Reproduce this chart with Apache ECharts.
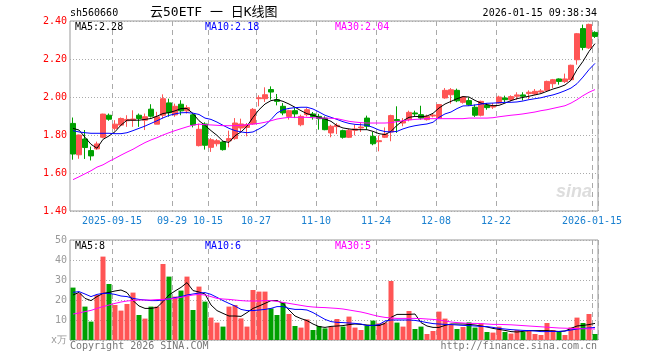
<!DOCTYPE html>
<html><head><meta charset="utf-8">
<script src="https://cdn.jsdelivr.net/npm/echarts@6/dist/echarts.min.js"></script>
<style>html,body{margin:0;padding:0;background:#fff}#c{width:660px;height:360px}</style>
</head><body><div id="c"></div>
<script>
const dates = ['2025-09-04','2025-09-05','2025-09-08','2025-09-09','2025-09-10','2025-09-11','2025-09-12','2025-09-15','2025-09-16','2025-09-17','2025-09-18','2025-09-19','2025-09-22','2025-09-23','2025-09-24','2025-09-25','2025-09-26','2025-09-29','2025-09-30',
'2025-10-09','2025-10-10','2025-10-13','2025-10-14','2025-10-15','2025-10-16','2025-10-17','2025-10-20','2025-10-21','2025-10-22','2025-10-23','2025-10-24','2025-10-27','2025-10-28','2025-10-29','2025-10-30','2025-10-31',
'2025-11-03','2025-11-04','2025-11-05','2025-11-06','2025-11-07','2025-11-10','2025-11-11','2025-11-12','2025-11-13','2025-11-14','2025-11-17','2025-11-18','2025-11-19','2025-11-20','2025-11-21','2025-11-24','2025-11-25','2025-11-26','2025-11-27','2025-11-28',
'2025-12-01','2025-12-02','2025-12-03','2025-12-04','2025-12-05','2025-12-08','2025-12-09','2025-12-10','2025-12-11','2025-12-12','2025-12-15','2025-12-16','2025-12-17','2025-12-18','2025-12-19','2025-12-22','2025-12-23','2025-12-24','2025-12-25','2025-12-26','2025-12-29','2025-12-30','2025-12-31',
'2026-01-05','2026-01-06','2026-01-07','2026-01-08','2026-01-09','2026-01-12','2026-01-13','2026-01-14','2026-01-15'];

const tickDates = ['2025-09-15','2025-09-29','2025-10-15','2025-10-27','2025-11-10','2025-11-24','2025-12-08','2025-12-22','2026-01-15'];
const tickLabels = ['2025-09-15','09-29','10-15','10-27','11-10','11-24','12-08','12-22','2026-01-15'];

const opens = [1.861,1.696,1.779,1.718,1.727,1.788,1.904,1.835,1.852,1.875,1.878,1.904,1.878,1.936,1.857,1.904,1.969,1.906,1.962,1.927,1.906,1.744,
1.858,1.735,1.754,1.763,1.770,1.781,1.837,1.840,1.858,1.991,1.991,2.039,1.986,1.951,1.898,1.928,1.854,1.907,1.911,1.898,1.889,1.811,
1.844,1.823,1.788,1.825,1.837,1.889,1.793,1.765,1.788,1.816,1.881,1.863,1.881,1.916,1.907,1.881,1.900,1.888,1.995,2.012,2.035,1.972,
1.981,1.946,1.904,1.956,1.947,1.968,1.995,1.986,2.004,2.011,2.018,2.016,2.026,2.035,2.070,2.095,2.081,2.091,2.196,2.360,2.258,2.340];
const closes = [1.700,1.800,1.734,1.690,1.753,1.910,1.883,1.857,1.887,1.882,1.884,1.887,1.896,1.899,1.896,1.991,1.917,1.951,1.927,1.944,1.853,1.830,
1.746,1.775,1.770,1.723,1.781,1.863,1.858,1.854,1.935,1.996,2.012,2.026,1.977,1.916,1.928,1.911,1.898,1.933,1.898,1.886,1.828,1.846,
1.851,1.788,1.825,1.832,1.842,1.846,1.754,1.770,1.805,1.902,1.875,1.872,1.919,1.911,1.889,1.898,1.905,1.960,2.035,2.038,1.980,2.000,
1.960,1.904,1.977,1.944,1.954,2.000,1.986,2.002,2.011,2.004,2.025,2.030,2.032,2.082,2.091,2.082,2.095,2.167,2.333,2.261,2.382,2.319];
const lows = [1.670,1.675,1.674,1.666,1.722,1.783,1.875,1.823,1.847,1.843,1.843,1.843,1.826,1.892,1.857,1.887,1.896,1.896,1.904,1.913,1.840,1.740,
1.723,1.711,1.740,1.718,1.735,1.775,1.816,1.793,1.854,1.951,1.974,1.986,1.956,1.904,1.881,1.889,1.846,1.898,1.881,1.828,1.825,1.788,
1.805,1.781,1.784,1.798,1.816,1.828,1.746,1.714,1.784,1.767,1.811,1.846,1.872,1.899,1.881,1.876,1.893,1.884,1.991,1.965,1.973,1.965,
1.954,1.895,1.898,1.933,1.937,1.965,1.972,1.977,1.986,1.982,1.989,2.012,2.021,2.030,2.047,2.065,2.074,2.088,2.170,2.246,2.253,2.311];
const highs = [1.892,1.802,1.826,1.739,1.765,1.912,1.913,1.878,1.892,1.904,1.930,1.913,1.913,1.962,1.922,2.014,1.991,1.965,1.983,1.957,1.913,1.860,
1.867,1.784,1.779,1.767,1.823,1.889,1.886,1.863,1.942,2.009,2.051,2.056,2.016,1.968,1.933,1.942,1.907,1.942,1.921,1.911,1.898,1.854,
1.863,1.828,1.832,1.854,1.863,1.902,1.816,1.798,1.840,1.907,1.951,1.889,1.928,1.928,1.954,1.907,1.915,1.962,2.047,2.047,2.044,2.005,
1.998,1.960,1.981,1.968,1.968,2.007,2.007,2.009,2.025,2.025,2.035,2.042,2.042,2.086,2.095,2.098,2.123,2.170,2.337,2.381,2.386,2.346];

const ma5 = [1.835,1.826,1.788,1.751,1.730,1.777,1.795,1.817,1.852,1.878,1.878,1.878,1.882,1.887,1.899,1.913,1.918,1.927,1.939,1.939,1.913,1.875,
1.851,1.823,1.798,1.767,1.761,1.796,1.816,1.846,1.893,1.933,1.963,1.981,1.986,1.977,1.963,1.946,1.928,1.912,1.904,1.893,1.884,1.872,
1.849,1.837,1.832,1.828,1.828,1.828,1.819,1.807,1.802,1.819,1.851,1.875,1.893,1.898,1.896,1.900,1.914,1.942,1.963,1.977,1.991,2.002,
2.000,1.982,1.968,1.960,1.954,1.956,1.968,1.981,1.991,1.998,2.004,2.011,2.018,2.030,2.042,2.051,2.063,2.088,2.144,2.188,2.240,2.281];
const ma10 = [1.823,1.816,1.812,1.809,1.809,1.809,1.809,1.807,1.807,1.812,1.823,1.835,1.847,1.861,1.875,1.890,1.903,1.911,1.917,1.918,1.915,1.908,
1.889,1.882,1.868,1.851,1.835,1.823,1.816,1.812,1.816,1.832,1.851,1.881,1.916,1.933,1.940,1.944,1.946,1.946,1.937,1.921,1.904,1.893,
1.882,1.870,1.861,1.856,1.854,1.851,1.840,1.826,1.818,1.816,1.819,1.832,1.842,1.849,1.854,1.858,1.867,1.893,1.911,1.921,1.939,1.953,
1.954,1.958,1.963,1.967,1.968,1.970,1.972,1.972,1.974,1.979,1.986,1.991,1.996,2.004,2.011,2.021,2.033,2.047,2.070,2.105,2.144,2.177];
const ma30 = [1.565,1.580,1.596,1.612,1.631,1.643,1.661,1.677,1.694,1.710,1.725,1.743,1.760,1.774,1.786,1.800,1.812,1.823,1.833,1.843,1.852,1.857,
1.854,1.853,1.851,1.849,1.849,1.849,1.851,1.854,1.858,1.861,1.867,1.875,1.884,1.889,1.893,1.893,1.893,1.893,1.891,1.889,1.889,1.888,
1.886,1.879,1.872,1.868,1.865,1.863,1.863,1.863,1.863,1.865,1.870,1.875,1.879,1.882,1.884,1.886,1.886,1.886,1.886,1.886,1.886,1.886,
1.889,1.889,1.889,1.889,1.891,1.896,1.900,1.904,1.907,1.911,1.916,1.921,1.928,1.933,1.940,1.947,1.954,1.968,1.986,2.007,2.025,2.039];

const volumes = [26.2,23.3,16.7,9.2,22.5,41.7,28,17.5,14.7,18,23.7,12.5,10.7,16.7,16.7,38,31.7,21.7,24.7,31.7,15,26.7,19.2,11.2,8.7,6.7,16.7,17.5,10.8,6.7,
25,24.2,24.2,15.8,12.5,18.7,13,7,6.2,10.3,5,7,5.8,6.7,10.5,6.7,11.7,6.2,5,7.2,9.7,8.3,8.7,29.5,8.7,6.7,14.5,5.5,6.7,3,
4.5,14.2,10.7,7.5,5.5,6.5,8.8,6.2,8.3,4,3.7,6.7,4,3.2,5,4,4.5,3,2.5,8.5,5,4.2,2.5,6.3,11.2,8.5,13,3];
const volMa5 = [22.5,23.8,20.8,19.7,21.7,23.3,23.8,24.5,25,23.7,19.7,17,15.8,15.8,16.3,19.2,22.5,24.5,26.3,28.7,24.7,24,23,17.5,14.7,13.3,12,12,11.8,13.7,
15.8,17,18.3,19.7,19.7,18.3,15,12,10.7,9.7,8,6.7,6.3,6.8,7,7.2,7.7,8,7.8,7.5,7.3,7.2,8.3,11.3,12.8,12.8,12.8,13,8.7,7,
6.3,6.3,7.3,8,8,8,7.8,7.5,7,6.5,5.8,5.3,4.8,4.2,4,4.3,4.7,4.7,4.7,4.7,4.5,4.2,4.5,5.8,7,7.3,7.7,8.3];
const volMa10 = [23.8,24.2,23,21.7,22.8,23.3,23.3,22.8,22,21.7,20.8,20.3,20,19.7,19.7,20,20.5,21.2,21.7,22.5,23,23.5,23.7,22.8,21.3,19.7,18.3,17,15.3,14.7,
14.7,15,15.3,15.8,16.7,16.7,15.8,15.3,15.3,15,13.7,12,10.3,9.2,8.8,8.7,8.5,8.3,8,7.2,7.3,7.7,9.5,10,10,10,10,9.8,9.3,8.7,
8.2,8,7.8,7.7,7.5,7.3,7.2,7,6.8,6.7,6.3,5.8,5.5,5.2,5,4.8,4.7,4.5,4.2,4.2,4.3,4.3,4.5,5,5.5,5.8,6,6.3];
const volMa30 = [13,13.5,14.2,14.8,15.8,16.7,17.5,18.3,19,19.5,19.8,20,20,20,20.2,20.3,20.5,20.8,21.3,22,22.5,22.8,22.5,21.7,20.8,20.5,20.3,20,19.7,19.5,
19.5,19.5,19.7,19.7,19.3,18.8,18.3,17.8,17.3,16.8,16.5,16.3,16.2,16,15.8,15.5,15,14.5,14,13.3,12.5,11.8,11.3,11,10.8,10.8,10.8,10.8,10.7,10.5,
10.3,10,9.5,9,8.7,8.5,8.3,8.3,8.2,8,7.8,7.8,7.7,7.6,7.4,7.2,7,6.8,6.6,6.4,6.2,6,5.9,5.8,5.7,5.6,5.6,5.5];

const mainLegend = ['MA5:2.28','MA10:2.18','MA30:2.04'];
const volLegend = ['MA5:8','MA10:6','MA30:5'];
const headerLeft = 'sh560660';
const headerTitle = '云50ETF 一 日K线图';
const headerTime = '2026-01-15 09:38:34';

const MONO = '"DejaVu Sans Mono","Liberation Mono",monospace';
const UP = '#ff5555', DOWN = '#00a000';
const MA_COLORS = ['#000000','#0000ff','#ff00ff'];
const tickSet = new Set(tickDates);
const tickFn = (i, v) => tickSet.has(v);
const labelMap = {};
tickDates.forEach((d, k) => { labelMap[d] = tickLabels[k]; });
const kdata = dates.map((d, i) => [opens[i], closes[i], lows[i], highs[i]]);

const vSplit = {show: true, interval: tickFn, lineStyle: {color: '#aaaaaa', type: [5, 4], width: 1}};
const hSplit = {show: true, lineStyle: {color: '#aaaaaa', type: [1, 2], width: 1}};

function maLine(data, color, xi, yi) {
  return {type: 'line', data: data, xAxisIndex: xi, yAxisIndex: yi, symbol: 'none', smooth: false,
    lineStyle: {color: color, width: 1}, itemStyle: {color: color}, z: 3, silent: true};
}
function txt(text, x, y, color, font, align) {
  return {type: 'text', x: x, y: y, silent: true, z: 100,
    style: {text: text, fill: color, font: font, align: align || 'left', verticalAlign: 'middle',
      textAlign: align || 'left', textVerticalAlign: 'middle'}};
}

const chart = echarts.init(document.getElementById('c'), null, {renderer: 'canvas'});
chart.setOption({
  animation: false,
  backgroundColor: '#ffffff',
  grid: [
    {left: 70, top: 21, width: 528, height: 190, show: true, borderColor: '#999999', borderWidth: 1, backgroundColor: 'transparent'},
    {left: 70, top: 240, width: 528, height: 100, show: true, borderColor: '#999999', borderWidth: 1, backgroundColor: 'transparent'}
  ],
  xAxis: [
    {type: 'category', gridIndex: 0, data: dates, boundaryGap: true,
     axisLine: {show: false}, axisTick: {show: false},
     axisLabel: {interval: tickFn, formatter: v => labelMap[v] || '', color: '#1a80d0', fontFamily: MONO, fontSize: 10, margin: 5, padding: [0, 6, 0, 0]},
     splitLine: vSplit},
    {type: 'category', gridIndex: 1, data: dates, boundaryGap: true,
     axisLine: {show: false}, axisTick: {show: false}, axisLabel: {show: false},
     splitLine: vSplit}
  ],
  yAxis: [
    {type: 'value', gridIndex: 0, min: 1.4, max: 2.4, interval: 0.2, scale: true,
     axisLine: {show: false}, axisTick: {show: false},
     axisLabel: {color: '#ff0000', fontFamily: MONO, fontSize: 10, margin: 3, formatter: v => v.toFixed(2)},
     splitLine: hSplit},
    {type: 'value', gridIndex: 1, min: 0, max: 50, interval: 10,
     axisLine: {show: false}, axisTick: {show: false},
     axisLabel: {color: '#999999', fontFamily: MONO, fontSize: 10, margin: 3, formatter: v => v === 0 ? 'x万' : String(v)},
     splitLine: hSplit}
  ],
  series: [
    {type: 'candlestick', data: kdata, xAxisIndex: 0, yAxisIndex: 0, barWidth: 5, z: 2, silent: true,
     itemStyle: {color: UP, color0: DOWN, borderColor: UP, borderColor0: DOWN, borderWidth: 1}},
    maLine(ma5, MA_COLORS[0], 0, 0),
    maLine(ma10, MA_COLORS[1], 0, 0),
    maLine(ma30, MA_COLORS[2], 0, 0),
    {type: 'bar', data: volumes, xAxisIndex: 1, yAxisIndex: 1, barWidth: 5, z: 2, silent: true,
     itemStyle: {color: p => (closes[p.dataIndex] >= opens[p.dataIndex] ? UP : DOWN)}},
    maLine(volMa5, MA_COLORS[0], 1, 1),
    maLine(volMa10, MA_COLORS[1], 1, 1),
    maLine(volMa30, MA_COLORS[2], 1, 1)
  ],
  graphic: [
    txt(headerLeft, 70, 13, '#000', '10px ' + MONO),
    txt(headerTitle, 150, 13, '#000', '13px "DejaVu Sans Mono","Noto Sans CJK SC",sans-serif'),
    txt(headerTime, 597, 13, '#000', '10px ' + MONO, 'right'),
    txt(mainLegend[0], 75, 27, MA_COLORS[0], '10px ' + MONO),
    txt(mainLegend[1], 205, 27, MA_COLORS[1], '10px ' + MONO),
    txt(mainLegend[2], 335, 27, MA_COLORS[2], '10px ' + MONO),
    txt(volLegend[0], 75, 246, MA_COLORS[0], '10px ' + MONO),
    txt(volLegend[1], 205, 246, MA_COLORS[1], '10px ' + MONO),
    txt(volLegend[2], 335, 246, MA_COLORS[2], '10px ' + MONO),
    txt('sina', 592, 192, '#dddddd', 'italic bold 18px sans-serif', 'right'),
    txt('Copyright 2026 SINA.COM', 70, 346, '#777777', '10px ' + MONO),
    txt('http://finance.sina.com.cn', 597, 346, '#777777', '10px ' + MONO, 'right')
  ]
});
</script>
</body></html>
